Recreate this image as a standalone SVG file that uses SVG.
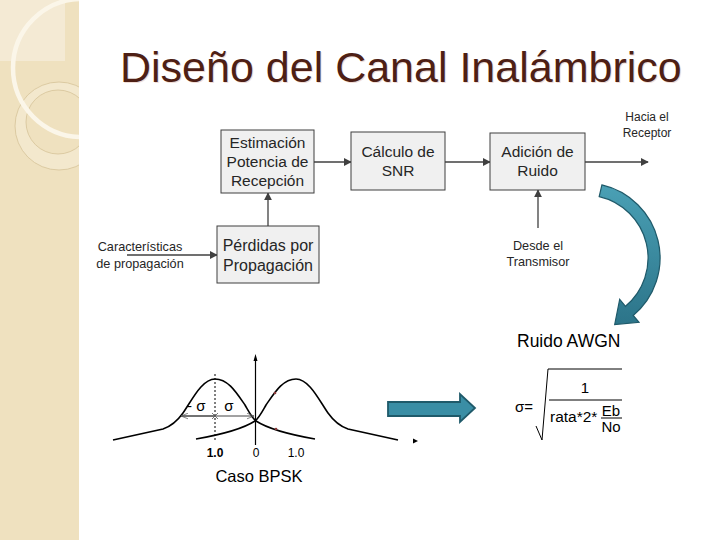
<svg xmlns="http://www.w3.org/2000/svg" width="720" height="540" viewBox="0 0 720 540">
<defs>
<style>
.bx{fill:#f0f0f0;stroke:#3f3f3f;stroke-width:1}
.bt{font-family:"Liberation Sans",Arial,sans-serif;font-size:15.5px;fill:#262626;text-anchor:middle}
.lt{font-family:"Liberation Sans",Arial,sans-serif;font-size:12.7px;fill:#262626;text-anchor:middle}
.ln{stroke:#404040;stroke-width:1.3;fill:none}
.tx{font-family:"Liberation Sans",Arial,sans-serif}
.cv{stroke:#000;stroke-width:1.6;fill:none}
</style>
<marker id="ah" viewBox="0 0 10 10" refX="9" refY="5" markerWidth="8" markerHeight="8" markerUnits="userSpaceOnUse" orient="auto">
<path d="M0,0 L10,5 L0,10 Z" fill="#404040"/>
</marker>
<marker id="oa" viewBox="0 0 10 10" refX="10" refY="5" markerWidth="7" markerHeight="7" markerUnits="userSpaceOnUse" orient="auto">
<path d="M0,1 L10,5 L0,9" fill="none" stroke="#555" stroke-width="1"/>
</marker>
<clipPath id="pc"><rect x="0" y="0" width="79" height="540"/></clipPath>
<linearGradient id="tg" x1="0" y1="0" x2="0" y2="1">
<stop offset="0" stop-color="#4aa0b5"/><stop offset="1" stop-color="#2c7489"/>
</linearGradient>
</defs>
<rect width="720" height="540" fill="#ffffff"/>
<g id="panel">
<rect x="0" y="0" width="79" height="540" fill="#efe1bf"/>
<g clip-path="url(#pc)">
<rect x="0" y="0" width="65" height="61" fill="#f4ead4"/>
<path d="M59,82 A44 44 0 1 1 59,170 A44 44 0 1 1 59,82 Z M58,90 A32 32 0 1 0 58,154 A32 32 0 1 0 58,90 Z" fill="#f3e8cd" fill-rule="evenodd"/>
<circle cx="59" cy="126" r="44" fill="none" stroke="#d6c398" stroke-width="0.8"/>
<circle cx="58" cy="122" r="32" fill="none" stroke="#d6c398" stroke-width="0.8"/>
<circle cx="82" cy="68" r="69" fill="none" stroke="#fbf6e9" stroke-width="4.5"/>
</g>
</g>
<g id="title">
<text x="121" y="83" class="tx" font-size="43" fill="#f0ddd6">Diseño del Canal Inalámbrico</text>
<text x="120" y="82" class="tx" font-size="43" fill="#4e1f15">Diseño del Canal Inalámbrico</text>
</g>
<g id="connectors">
<line class="ln" x1="314" y1="162" x2="351" y2="162" marker-end="url(#ah)"/>
<line class="ln" x1="445" y1="162" x2="490" y2="162" marker-end="url(#ah)"/>
<line class="ln" x1="585" y1="162" x2="648" y2="162" marker-end="url(#ah)"/>
<line class="ln" x1="268" y1="226" x2="268" y2="193" marker-end="url(#ah)"/>
<line class="ln" x1="127" y1="255" x2="217" y2="255" marker-end="url(#ah)"/>
<line class="ln" x1="538" y1="228" x2="538" y2="190" marker-end="url(#ah)"/>
</g>
<g id="n-estimacion">
<rect class="bx" x="221" y="130" width="93" height="63"/>
<text class="bt" x="267.5" y="148">Estimación</text>
<text class="bt" x="267.5" y="167">Potencia de</text>
<text class="bt" x="267.5" y="186">Recepción</text>
</g>
<g id="n-perdidas">
<rect class="bx" x="217" y="226" width="102" height="57"/>
<text class="bt" x="268" y="251" style="font-size:16px">Pérdidas por</text>
<text class="bt" x="268" y="271" style="font-size:16px">Propagación</text>
</g>
<g id="n-snr">
<rect class="bx" x="351" y="132" width="94" height="58"/>
<text class="bt" x="398" y="157">Cálculo de</text>
<text class="bt" x="398" y="176">SNR</text>
</g>
<g id="n-ruido">
<rect class="bx" x="490" y="133" width="95" height="57"/>
<text class="bt" x="537.5" y="157">Adición de</text>
<text class="bt" x="537.5" y="176">Ruido</text>
</g>
<g id="l-caract">
<text class="lt" x="140" y="251">Características</text>
<text class="lt" x="140" y="268">de propagación</text>
</g>
<g id="l-hacia">
<text class="lt" x="647" y="121" style="font-size:12px">Hacia el</text>
<text class="lt" x="647" y="137" style="font-size:12px">Receptor</text>
</g>
<g id="l-desde">
<text class="lt" x="538" y="250">Desde el</text>
<text class="lt" x="538" y="266">Transmisor</text>
</g>
<g id="curved-arrow">
<path d="M601.9,184.9 A75 75 0 0 1 633.2,315.5 L639,322.3 L614.7,324.5 L619.7,299.4 L625.5,306.3 A63 63 0 0 0 599.2,196.6 Z" fill="url(#tg)" stroke="#1f5a6a" stroke-width="1.2"/>
</g>
<text class="tx" x="517" y="347" font-size="17.5">Ruido AWGN</text>
<g id="plot">
<line x1="255.5" y1="358" x2="255.5" y2="445" stroke="#000" stroke-width="1.2"/>
<path d="M253.5,361 L255.5,354 L257.5,361 Z" fill="#000"/>
<path d="M413,438.5 L418,441 L413,443.5 Z" fill="#000"/>
<path id="gl" class="cv" d="M113,440 L163,429 C172,426 178,420 183,413 C192,400 202,379 215,379 C228,379 236,392 245,405 C249,412 252,418 256,421 C270,430 292,435 315,439"/>
<use href="#gl" transform="translate(511,0) scale(-1,1)"/>
<line x1="215" y1="374" x2="215" y2="442" stroke="#000" stroke-width="1" stroke-dasharray="2,2"/>
<line x1="181" y1="416" x2="254" y2="416" stroke="#444" stroke-width="1" marker-end="url(#oa)"/>
<line x1="215" y1="416" x2="181" y2="416" stroke="#444" stroke-width="1" marker-end="url(#oa)"/>
<path d="M212,413 L218,419 M218,413 L212,419" stroke="#555" stroke-width="0.8"/>
<circle cx="275" cy="393" r="1.3" fill="#8b3a3a"/>
<circle cx="276" cy="429" r="1.3" fill="#8b3a3a"/>
<text class="tx" x="187" y="411" font-size="15">- σ</text>
<text class="tx" x="229" y="411" font-size="15" text-anchor="middle">σ</text>
<text class="tx" x="215" y="457" font-size="12" text-anchor="middle" font-weight="bold">1.0</text>
<text class="tx" x="256" y="457" font-size="12" text-anchor="middle" fill="#000">0</text>
<text class="tx" x="296" y="457" font-size="12" text-anchor="middle">1.0</text>
<text class="tx" x="259" y="482" font-size="16.5" text-anchor="middle">Caso BPSK</text>
</g>
<g id="block-arrow">
<path d="M388,402 L460,402 L460,394 L475,408 L460,422 L460,416 L388,416 Z" fill="#3a8ea5" stroke="#1f5a6a" stroke-width="1.8"/>
</g>
<g id="formula">
<text class="tx" x="515" y="412" font-size="15">σ=</text>
<path d="M536,426 L542,440 L548,369 L622,369" fill="none" stroke="#000" stroke-width="1"/>
<text class="tx" x="585" y="393" font-size="15" text-anchor="middle">1</text>
<line x1="549" y1="400" x2="622" y2="400" stroke="#000" stroke-width="1"/>
<text class="tx" x="550" y="422" font-size="15.5">rata*2*</text>
<text class="tx" x="611" y="416" font-size="15" text-anchor="middle">Eb</text>
<line x1="601" y1="418" x2="622" y2="418" stroke="#000" stroke-width="1"/>
<text class="tx" x="611" y="432" font-size="15" text-anchor="middle">No</text>
</g>
</svg>
